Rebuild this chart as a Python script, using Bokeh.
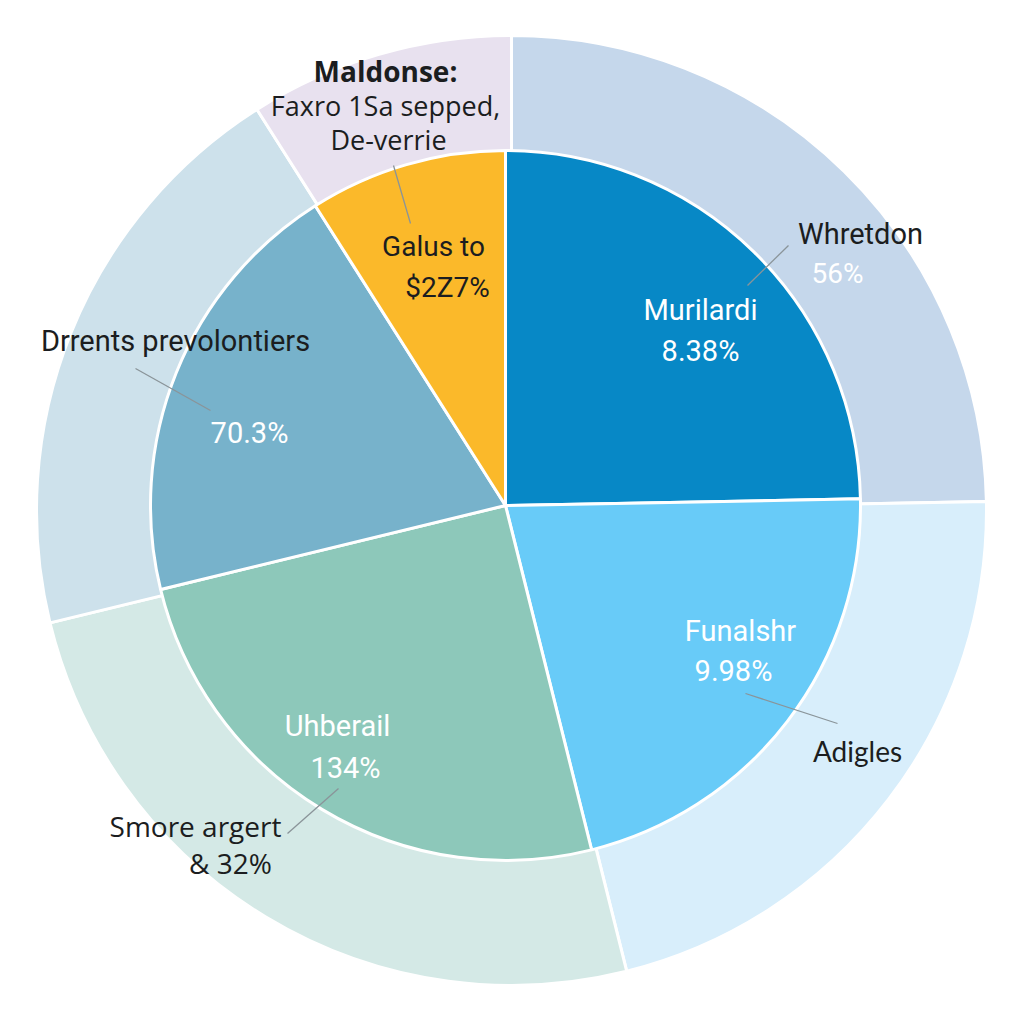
from bokeh.plotting import figure
from bokeh.models import Range1d, ColumnDataSource
from bokeh.core.properties import value
from bokeh.embed import file_html
from bokeh.resources import INLINE

# ---- data ----
segments = ["Murilardi", "Funalshr", "Uhberail", "Drrents prevolontiers", "Galus to"]
outer_names = ["Whretdon", "Adigles", "Smore argert", "Drrents prevolontiers", "Maldonse"]
shares = [24.7, 21.4, 25.1, 19.8, 9.0]          # share of the circle (%)
inner_colors = ["#0788C6", "#68CBF8", "#8DC8BA", "#77B2CB", "#FBB92A"]
outer_colors = ["#C5D7EB", "#D8EEFB", "#D4E9E6", "#CDE1EB", "#E8E1EF"]

# ---- layout (pixel space of the 1024 page) ----
W = 1008
CX, CY = 505, 505
OCX, OCY = 511, 510
R_IN, R_OUT = 355, 475

def X(px):
    return px

def Y(py):
    return 1008 - py

p = figure(width=W, height=W, output_backend="svg", toolbar_location=None,
           x_range=Range1d(0, W), y_range=Range1d(0, W), min_border=0)
p.axis.visible = False
p.grid.visible = False
p.outline_line_color = None
p.background_fill_color = "white"
p.border_fill_color = "white"

total = sum(shares)
starts, ends = [], []
cum = 0.0
for s in shares:
    starts.append(90 - cum / total * 360)
    cum += s
    ends.append(90 - cum / total * 360)

src = ColumnDataSource(dict(start=starts, end=ends, inner=inner_colors, outer=outer_colors,
                            name=segments, oname=outer_names))
p.wedge(x=X(OCX), y=Y(OCY), radius=R_OUT,
        start_angle="start", end_angle="end", start_angle_units="deg",
        end_angle_units="deg", direction="clock", fill_color="outer",
        line_color="white", line_width=3, source=src)
p.wedge(x=X(CX), y=Y(CY), radius=R_IN, start_angle="start", end_angle="end",
        start_angle_units="deg", end_angle_units="deg", direction="clock",
        fill_color="inner", line_color="white", line_width=3, source=src)

# leader lines
leaders = [((393, 165), (410, 223)), ((788, 245), (747, 285)), ((135, 368), (210, 410)),
           ((745, 693), (837, 723)), ((287, 833), (338, 788))]
for (a, b) in leaders:
    p.line([X(a[0]), X(b[0])], [Y(a[1]), Y(b[1])], line_color="#8a9499", line_width=1.3)

DARK = "#1b1d20"
labels = [
    ("Maldonse:", 385, 70, 28, DARK, "Open Sans", "bold"),
    ("Faxro 1Sa sepped,", 385, 105, 27, DARK, "Open Sans", "normal"),
    ("De-verrie", 388, 139, 27, DARK, "Open Sans", "normal"),
    ("Galus to", 433, 246, 28, DARK, "Roboto", "normal"),
    ("$2Z7%", 447, 287, 28, DARK, "Roboto", "normal"),
    ("Whretdon", 860, 233, 29, DARK, "Roboto", "normal"),
    ("56%", 837, 273, 28, "white", "Roboto", "normal"),
    ("Murilardi", 700, 309, 29, "white", "Roboto", "normal"),
    ("8.38%", 700, 350, 29, "white", "Roboto", "normal"),
    ("Drrents prevolontiers", 175, 340, 29, DARK, "Roboto", "normal"),
    ("70.3%", 249, 432, 29, "white", "Roboto", "normal"),
    ("Funalshr", 740, 630, 29, "white", "Roboto", "normal"),
    ("9.98%", 733, 670, 29, "white", "Roboto", "normal"),
    ("Adigles", 857, 750, 28, DARK, "Lato", "normal"),
    ("Uhberail", 337, 725, 29, "white", "Roboto", "normal"),
    ("134%", 345, 767, 29, "white", "Roboto", "normal"),
    ("Smore argert", 195, 825, 28, DARK, "Open Sans", "normal"),
    ("& 32%", 230, 862, 28, DARK, "Open Sans", "normal"),
]
for (t, px, py, fs, col, font, style) in labels:
    p.text(x=[X(px)], y=[Y(py)], text=[t], text_align="center", text_baseline="middle",
           text_font_size=f"{fs}px", text_color=col, text_font=value(font),
           text_font_style=style)

open("out.html", "w").write(file_html(p, INLINE))
